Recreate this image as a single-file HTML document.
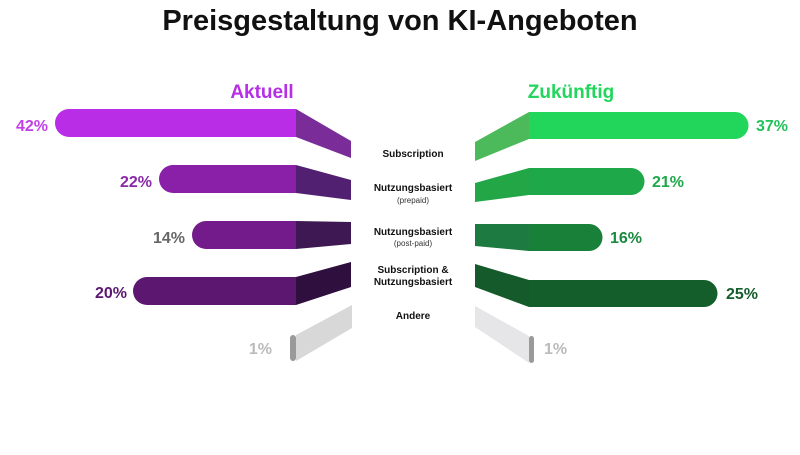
<!DOCTYPE html>
<html><head><meta charset="utf-8"><style>
body{margin:0;background:#fff;}
svg text{font-family:"Liberation Sans",sans-serif;}
</style></head><body>
<svg width="800" height="450" viewBox="0 0 800 450" xmlns="http://www.w3.org/2000/svg">
<text x="400" y="30" text-anchor="middle" font-size="29" font-weight="bold" fill="#111">Preisgestaltung von KI-Angeboten</text>
<text x="262" y="98" text-anchor="middle" font-size="19" font-weight="bold" fill="#b62ee6">Aktuell</text>
<text x="571" y="98" text-anchor="middle" font-size="19" font-weight="bold" fill="#22d65c">Zukünftig</text>

<!-- left -->
<path d="M69,109H296V137H69A14,14 0 0 1 69,109Z" fill="#b92de6"/>
<polygon points="296,109 351,141 351,158 296,137" fill="#7a2d98"/>
<path d="M173,165H296V193H173A14,14 0 0 1 173,165Z" fill="#8a1fa8"/>
<polygon points="296,165 351,180 351,200 296,193" fill="#522070"/>
<path d="M206,221H296V249H206A14,14 0 0 1 206,221Z" fill="#741b8c"/>
<polygon points="296,221 351,222 351,244 296,249" fill="#3e1852"/>
<path d="M147,277H296V305H147A14,14 0 0 1 147,277Z" fill="#5c1770"/>
<polygon points="296,277 351,262 351,287 296,305" fill="#2e0f3e"/>
<polygon points="296,335 352,305 352,328 296,361" fill="#d8d8d8"/>
<rect x="290" y="335" width="6" height="26" rx="3" fill="#9a9a9a"/>

<text x="48" y="131" text-anchor="end" font-size="16" font-weight="bold" fill="#c13fe8">42%</text>
<text x="152" y="187" text-anchor="end" font-size="16" font-weight="bold" fill="#8a28a8">22%</text>
<text x="185" y="243" text-anchor="end" font-size="16" font-weight="bold" fill="#666">14%</text>
<text x="127" y="298" text-anchor="end" font-size="16" font-weight="bold" fill="#5c1770">20%</text>
<text x="272" y="354" text-anchor="end" font-size="16" font-weight="bold" fill="#bbb">1%</text>

<!-- right -->
<path d="M529,112H735A13.5,13.5 0 0 1 735,139H529Z" fill="#22d65c"/>
<polygon points="529,112 475,142 475,161 529,139" fill="#4cba5a"/>
<path d="M529,168H631A13.5,13.5 0 0 1 631,195H529Z" fill="#1fa84a"/>
<polygon points="529,168 475,183 475,202 529,195" fill="#22a646"/>
<path d="M529,224H589A13.5,13.5 0 0 1 589,251H529Z" fill="#19803a"/>
<polygon points="529,224 475,224 475,246 529,251" fill="#1d7a40"/>
<path d="M529,280H704A13.5,13.5 0 0 1 704,307H529Z" fill="#145e2c"/>
<polygon points="529,280 475,264 475,287 529,307" fill="#145a2a"/>
<polygon points="529,336 475,306 475,327 529,363" fill="#e6e6e8"/>
<rect x="529" y="336" width="5" height="27" rx="2.5" fill="#9a9a9a"/>

<text x="756" y="131" font-size="16" font-weight="bold" fill="#22c25a">37%</text>
<text x="652" y="187" font-size="16" font-weight="bold" fill="#1fa84a">21%</text>
<text x="610" y="243" font-size="16" font-weight="bold" fill="#1a8a3e">16%</text>
<text x="726" y="299" font-size="16" font-weight="bold" fill="#145e2c">25%</text>
<text x="544" y="354" font-size="16" font-weight="bold" fill="#bbb">1%</text>

<!-- center labels -->
<g text-anchor="middle" fill="#111">
<text x="413" y="157" font-size="10" font-weight="bold">Subscription</text>
<text x="413" y="191" font-size="10" font-weight="bold">Nutzungsbasiert</text>
<text x="413" y="203" font-size="8" fill="#333">(prepaid)</text>
<text x="413" y="235" font-size="10" font-weight="bold">Nutzungsbasiert</text>
<text x="413" y="246" font-size="8" fill="#333">(post-paid)</text>
<text x="413" y="273" font-size="10" font-weight="bold">Subscription &amp;</text>
<text x="413" y="285" font-size="10" font-weight="bold">Nutzungsbasiert</text>
<text x="413" y="319" font-size="10" font-weight="bold">Andere</text>
</g>
</svg>
</body></html>
